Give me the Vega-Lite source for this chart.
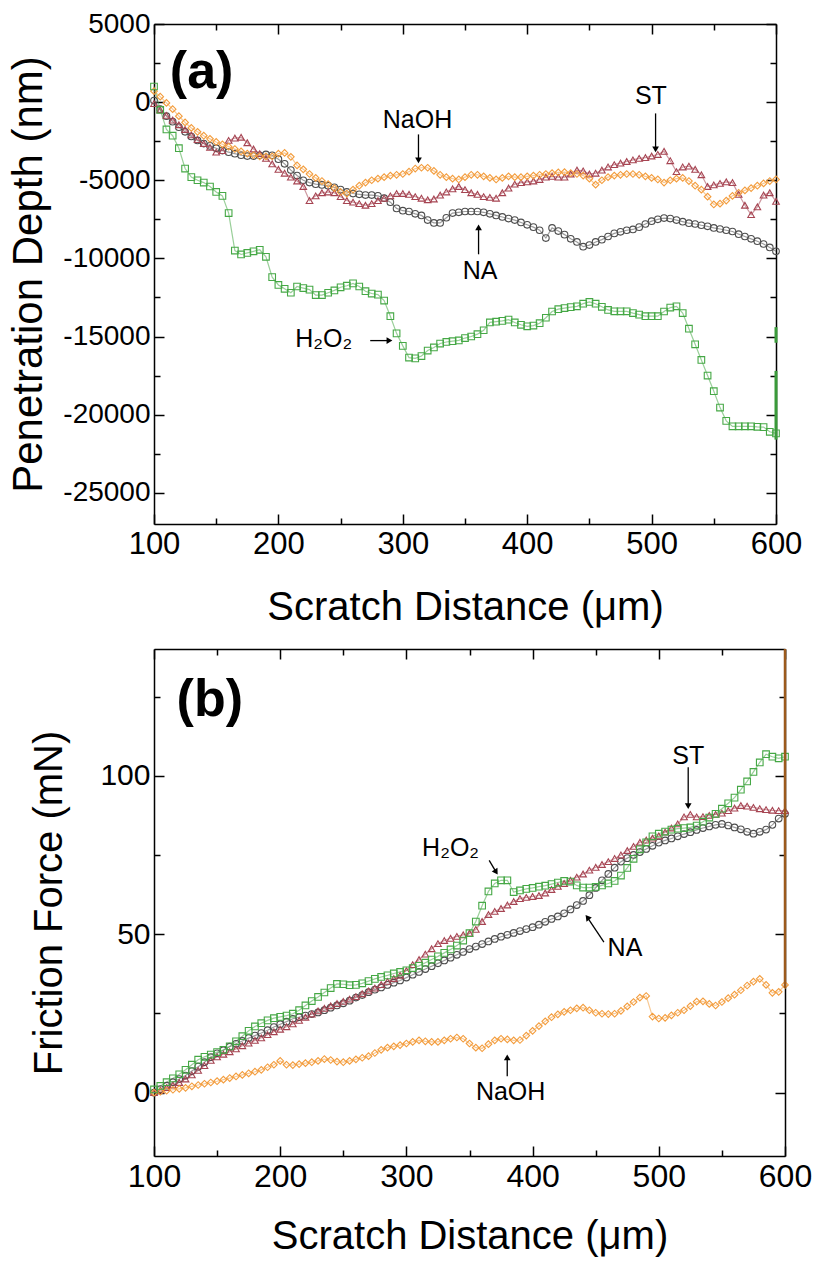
{
"$schema":"https://vega.github.io/schema/vega-lite/v6.json",
"padding":{"left":7,"top":10,"right":25,"bottom":5},
"spacing":20,
"config":{"view":{"stroke":null},"font":"Liberation Sans","axis":{"grid":false,"domainColor":"black","domainWidth":1.5,"tickColor":"black","tickWidth":1.5,"labelColor":"black","titleColor":"black","titleFontWeight":"normal","labelFont":"Liberation Sans","titleFont":"Liberation Sans","labelOverlap":false,"labelFlush":false}},
"datasets":{
"a":[
{"s":"NA","x":100,"y":100},{"s":"NA","x":105,"y":-450},{"s":"NA","x":110,"y":-900},{"s":"NA","x":115,"y":-1250},{"s":"NA","x":120,"y":-1600},{"s":"NA","x":125,"y":-1900},{"s":"NA","x":130,"y":-2200},{"s":"NA","x":135,"y":-2450},{"s":"NA","x":140,"y":-2650},{"s":"NA","x":145,"y":-2800},{"s":"NA","x":150,"y":-2950},{"s":"NA","x":155,"y":-3100},{"s":"NA","x":160,"y":-3200},{"s":"NA","x":165,"y":-3300},{"s":"NA","x":170,"y":-3400},{"s":"NA","x":175,"y":-3450},{"s":"NA","x":180,"y":-3450},{"s":"NA","x":185,"y":-3400},{"s":"NA","x":190,"y":-3350},{"s":"NA","x":195,"y":-3400},{"s":"NA","x":200,"y":-3650},{"s":"NA","x":205,"y":-3950},{"s":"NA","x":210,"y":-4350},{"s":"NA","x":215,"y":-4700},{"s":"NA","x":220,"y":-5000},{"s":"NA","x":225,"y":-5150},{"s":"NA","x":230,"y":-5250},{"s":"NA","x":235,"y":-5300},{"s":"NA","x":240,"y":-5350},{"s":"NA","x":245,"y":-5450},{"s":"NA","x":250,"y":-5600},{"s":"NA","x":255,"y":-5750},{"s":"NA","x":260,"y":-5850},{"s":"NA","x":265,"y":-5900},{"s":"NA","x":270,"y":-5950},{"s":"NA","x":275,"y":-5950},{"s":"NA","x":280,"y":-6000},{"s":"NA","x":285,"y":-6150},{"s":"NA","x":290,"y":-6400},{"s":"NA","x":295,"y":-6800},{"s":"NA","x":300,"y":-6950},{"s":"NA","x":305,"y":-7000},{"s":"NA","x":310,"y":-7150},{"s":"NA","x":315,"y":-7250},{"s":"NA","x":320,"y":-7550},{"s":"NA","x":325,"y":-7730},{"s":"NA","x":330,"y":-7730},{"s":"NA","x":335,"y":-7400},{"s":"NA","x":340,"y":-7100},{"s":"NA","x":345,"y":-7050},{"s":"NA","x":350,"y":-7000},{"s":"NA","x":355,"y":-7000},{"s":"NA","x":360,"y":-7000},{"s":"NA","x":365,"y":-7050},{"s":"NA","x":370,"y":-7150},{"s":"NA","x":375,"y":-7250},{"s":"NA","x":380,"y":-7350},{"s":"NA","x":385,"y":-7450},{"s":"NA","x":390,"y":-7550},{"s":"NA","x":395,"y":-7700},{"s":"NA","x":400,"y":-7850},{"s":"NA","x":405,"y":-8000},{"s":"NA","x":410,"y":-8200},{"s":"NA","x":415,"y":-8700},{"s":"NA","x":420,"y":-8050},{"s":"NA","x":425,"y":-8250},{"s":"NA","x":430,"y":-8480},{"s":"NA","x":435,"y":-8750},{"s":"NA","x":440,"y":-8950},{"s":"NA","x":445,"y":-9250},{"s":"NA","x":450,"y":-9150},{"s":"NA","x":455,"y":-8950},{"s":"NA","x":460,"y":-8800},{"s":"NA","x":465,"y":-8600},{"s":"NA","x":470,"y":-8400},{"s":"NA","x":475,"y":-8300},{"s":"NA","x":480,"y":-8200},{"s":"NA","x":485,"y":-8150},{"s":"NA","x":490,"y":-8000},{"s":"NA","x":495,"y":-7800},{"s":"NA","x":500,"y":-7620},{"s":"NA","x":505,"y":-7500},{"s":"NA","x":510,"y":-7420},{"s":"NA","x":515,"y":-7450},{"s":"NA","x":520,"y":-7550},{"s":"NA","x":525,"y":-7650},{"s":"NA","x":530,"y":-7750},{"s":"NA","x":535,"y":-7800},{"s":"NA","x":540,"y":-7880},{"s":"NA","x":545,"y":-7950},{"s":"NA","x":550,"y":-8050},{"s":"NA","x":555,"y":-8120},{"s":"NA","x":560,"y":-8200},{"s":"NA","x":565,"y":-8280},{"s":"NA","x":570,"y":-8450},{"s":"NA","x":575,"y":-8600},{"s":"NA","x":580,"y":-8750},{"s":"NA","x":585,"y":-8900},{"s":"NA","x":590,"y":-9080},{"s":"NA","x":595,"y":-9300},{"s":"NA","x":600,"y":-9550},
{"s":"ST","x":100,"y":-100},{"s":"ST","x":105,"y":-500},{"s":"ST","x":110,"y":-850},{"s":"ST","x":115,"y":-1150},{"s":"ST","x":120,"y":-1450},{"s":"ST","x":125,"y":-1750},{"s":"ST","x":130,"y":-2100},{"s":"ST","x":135,"y":-2400},{"s":"ST","x":140,"y":-2650},{"s":"ST","x":145,"y":-2900},{"s":"ST","x":150,"y":-3200},{"s":"ST","x":155,"y":-3100},{"s":"ST","x":160,"y":-2450},{"s":"ST","x":165,"y":-2300},{"s":"ST","x":170,"y":-2250},{"s":"ST","x":175,"y":-2600},{"s":"ST","x":180,"y":-3000},{"s":"ST","x":185,"y":-3300},{"s":"ST","x":190,"y":-3600},{"s":"ST","x":195,"y":-3950},{"s":"ST","x":200,"y":-4300},{"s":"ST","x":205,"y":-4550},{"s":"ST","x":210,"y":-4800},{"s":"ST","x":215,"y":-5050},{"s":"ST","x":220,"y":-5400},{"s":"ST","x":225,"y":-6300},{"s":"ST","x":230,"y":-6000},{"s":"ST","x":235,"y":-5800},{"s":"ST","x":240,"y":-5750},{"s":"ST","x":245,"y":-5800},{"s":"ST","x":250,"y":-6050},{"s":"ST","x":255,"y":-6300},{"s":"ST","x":260,"y":-6400},{"s":"ST","x":265,"y":-6500},{"s":"ST","x":270,"y":-6600},{"s":"ST","x":275,"y":-6500},{"s":"ST","x":280,"y":-6300},{"s":"ST","x":285,"y":-6150},{"s":"ST","x":290,"y":-6000},{"s":"ST","x":295,"y":-5850},{"s":"ST","x":300,"y":-5850},{"s":"ST","x":305,"y":-5900},{"s":"ST","x":310,"y":-6050},{"s":"ST","x":315,"y":-6150},{"s":"ST","x":320,"y":-6250},{"s":"ST","x":325,"y":-6200},{"s":"ST","x":330,"y":-5950},{"s":"ST","x":335,"y":-5750},{"s":"ST","x":340,"y":-5550},{"s":"ST","x":345,"y":-5400},{"s":"ST","x":350,"y":-5600},{"s":"ST","x":355,"y":-5800},{"s":"ST","x":360,"y":-5900},{"s":"ST","x":365,"y":-6050},{"s":"ST","x":370,"y":-6100},{"s":"ST","x":375,"y":-6150},{"s":"ST","x":380,"y":-5800},{"s":"ST","x":385,"y":-5500},{"s":"ST","x":390,"y":-5250},{"s":"ST","x":395,"y":-5150},{"s":"ST","x":400,"y":-5100},{"s":"ST","x":405,"y":-5050},{"s":"ST","x":410,"y":-4950},{"s":"ST","x":415,"y":-4800},{"s":"ST","x":420,"y":-4750},{"s":"ST","x":425,"y":-4800},{"s":"ST","x":430,"y":-4800},{"s":"ST","x":435,"y":-4600},{"s":"ST","x":440,"y":-4350},{"s":"ST","x":445,"y":-4400},{"s":"ST","x":450,"y":-4600},{"s":"ST","x":455,"y":-4550},{"s":"ST","x":460,"y":-4350},{"s":"ST","x":465,"y":-4150},{"s":"ST","x":470,"y":-4000},{"s":"ST","x":475,"y":-3900},{"s":"ST","x":480,"y":-3800},{"s":"ST","x":485,"y":-3700},{"s":"ST","x":490,"y":-3600},{"s":"ST","x":495,"y":-3550},{"s":"ST","x":500,"y":-3450},{"s":"ST","x":505,"y":-3350},{"s":"ST","x":510,"y":-3150},{"s":"ST","x":515,"y":-3750},{"s":"ST","x":520,"y":-4450},{"s":"ST","x":525,"y":-4150},{"s":"ST","x":530,"y":-4100},{"s":"ST","x":535,"y":-4300},{"s":"ST","x":540,"y":-4650},{"s":"ST","x":545,"y":-5400},{"s":"ST","x":550,"y":-5300},{"s":"ST","x":555,"y":-5200},{"s":"ST","x":560,"y":-5100},{"s":"ST","x":565,"y":-5150},{"s":"ST","x":570,"y":-5900},{"s":"ST","x":575,"y":-6600},{"s":"ST","x":580,"y":-7200},{"s":"ST","x":585,"y":-6700},{"s":"ST","x":590,"y":-5950},{"s":"ST","x":595,"y":-5800},{"s":"ST","x":600,"y":-6350},
{"s":"NaOH","x":100,"y":700},{"s":"NaOH","x":105,"y":350},{"s":"NaOH","x":110,"y":-50},{"s":"NaOH","x":115,"y":-450},{"s":"NaOH","x":120,"y":-900},{"s":"NaOH","x":125,"y":-1300},{"s":"NaOH","x":130,"y":-1650},{"s":"NaOH","x":135,"y":-1900},{"s":"NaOH","x":140,"y":-2150},{"s":"NaOH","x":145,"y":-2350},{"s":"NaOH","x":150,"y":-2550},{"s":"NaOH","x":155,"y":-2700},{"s":"NaOH","x":160,"y":-2850},{"s":"NaOH","x":165,"y":-3000},{"s":"NaOH","x":170,"y":-3150},{"s":"NaOH","x":175,"y":-3300},{"s":"NaOH","x":180,"y":-3400},{"s":"NaOH","x":185,"y":-3470},{"s":"NaOH","x":190,"y":-3470},{"s":"NaOH","x":195,"y":-3470},{"s":"NaOH","x":200,"y":-3300},{"s":"NaOH","x":205,"y":-3250},{"s":"NaOH","x":210,"y":-3500},{"s":"NaOH","x":215,"y":-4050},{"s":"NaOH","x":220,"y":-4300},{"s":"NaOH","x":225,"y":-4600},{"s":"NaOH","x":230,"y":-4850},{"s":"NaOH","x":235,"y":-5050},{"s":"NaOH","x":240,"y":-5250},{"s":"NaOH","x":245,"y":-5500},{"s":"NaOH","x":250,"y":-5750},{"s":"NaOH","x":255,"y":-5850},{"s":"NaOH","x":260,"y":-5600},{"s":"NaOH","x":265,"y":-5350},{"s":"NaOH","x":270,"y":-5150},{"s":"NaOH","x":275,"y":-5000},{"s":"NaOH","x":280,"y":-4900},{"s":"NaOH","x":285,"y":-4800},{"s":"NaOH","x":290,"y":-4700},{"s":"NaOH","x":295,"y":-4650},{"s":"NaOH","x":300,"y":-4600},{"s":"NaOH","x":305,"y":-4450},{"s":"NaOH","x":310,"y":-4250},{"s":"NaOH","x":315,"y":-4200},{"s":"NaOH","x":320,"y":-4200},{"s":"NaOH","x":325,"y":-4400},{"s":"NaOH","x":330,"y":-4650},{"s":"NaOH","x":335,"y":-4800},{"s":"NaOH","x":340,"y":-4900},{"s":"NaOH","x":345,"y":-4950},{"s":"NaOH","x":350,"y":-4800},{"s":"NaOH","x":355,"y":-4650},{"s":"NaOH","x":360,"y":-4650},{"s":"NaOH","x":365,"y":-4750},{"s":"NaOH","x":370,"y":-4850},{"s":"NaOH","x":375,"y":-4950},{"s":"NaOH","x":380,"y":-4850},{"s":"NaOH","x":385,"y":-4750},{"s":"NaOH","x":390,"y":-4800},{"s":"NaOH","x":395,"y":-4800},{"s":"NaOH","x":400,"y":-4750},{"s":"NaOH","x":405,"y":-4700},{"s":"NaOH","x":410,"y":-4650},{"s":"NaOH","x":415,"y":-4600},{"s":"NaOH","x":420,"y":-4550},{"s":"NaOH","x":425,"y":-4500},{"s":"NaOH","x":430,"y":-4480},{"s":"NaOH","x":435,"y":-4550},{"s":"NaOH","x":440,"y":-4600},{"s":"NaOH","x":445,"y":-4700},{"s":"NaOH","x":450,"y":-4900},{"s":"NaOH","x":455,"y":-5280},{"s":"NaOH","x":460,"y":-5000},{"s":"NaOH","x":465,"y":-4800},{"s":"NaOH","x":470,"y":-4700},{"s":"NaOH","x":475,"y":-4650},{"s":"NaOH","x":480,"y":-4600},{"s":"NaOH","x":485,"y":-4600},{"s":"NaOH","x":490,"y":-4650},{"s":"NaOH","x":495,"y":-4750},{"s":"NaOH","x":500,"y":-4850},{"s":"NaOH","x":505,"y":-4950},{"s":"NaOH","x":510,"y":-5150},{"s":"NaOH","x":515,"y":-5000},{"s":"NaOH","x":520,"y":-4900},{"s":"NaOH","x":525,"y":-4850},{"s":"NaOH","x":530,"y":-5050},{"s":"NaOH","x":535,"y":-5350},{"s":"NaOH","x":540,"y":-5600},{"s":"NaOH","x":545,"y":-6050},{"s":"NaOH","x":550,"y":-6550},{"s":"NaOH","x":555,"y":-6500},{"s":"NaOH","x":560,"y":-6300},{"s":"NaOH","x":565,"y":-6000},{"s":"NaOH","x":570,"y":-5800},{"s":"NaOH","x":575,"y":-5650},{"s":"NaOH","x":580,"y":-5500},{"s":"NaOH","x":585,"y":-5350},{"s":"NaOH","x":590,"y":-5200},{"s":"NaOH","x":595,"y":-5050},{"s":"NaOH","x":600,"y":-4950},
{"s":"H2O2","x":100,"y":1000},{"s":"H2O2","x":105,"y":-500},{"s":"H2O2","x":110,"y":-1750},{"s":"H2O2","x":115,"y":-2150},{"s":"H2O2","x":120,"y":-2950},{"s":"H2O2","x":125,"y":-4250},{"s":"H2O2","x":130,"y":-4800},{"s":"H2O2","x":135,"y":-5000},{"s":"H2O2","x":140,"y":-5150},{"s":"H2O2","x":145,"y":-5400},{"s":"H2O2","x":150,"y":-5750},{"s":"H2O2","x":155,"y":-6000},{"s":"H2O2","x":160,"y":-7100},{"s":"H2O2","x":165,"y":-9500},{"s":"H2O2","x":170,"y":-9750},{"s":"H2O2","x":175,"y":-9650},{"s":"H2O2","x":180,"y":-9550},{"s":"H2O2","x":185,"y":-9450},{"s":"H2O2","x":190,"y":-9900},{"s":"H2O2","x":195,"y":-11200},{"s":"H2O2","x":200,"y":-11700},{"s":"H2O2","x":205,"y":-11950},{"s":"H2O2","x":210,"y":-12200},{"s":"H2O2","x":215,"y":-11800},{"s":"H2O2","x":220,"y":-11900},{"s":"H2O2","x":225,"y":-12000},{"s":"H2O2","x":230,"y":-12350},{"s":"H2O2","x":235,"y":-12350},{"s":"H2O2","x":240,"y":-12200},{"s":"H2O2","x":245,"y":-12050},{"s":"H2O2","x":250,"y":-11850},{"s":"H2O2","x":255,"y":-11750},{"s":"H2O2","x":260,"y":-11600},{"s":"H2O2","x":265,"y":-11800},{"s":"H2O2","x":270,"y":-12100},{"s":"H2O2","x":275,"y":-12250},{"s":"H2O2","x":280,"y":-12320},{"s":"H2O2","x":285,"y":-12700},{"s":"H2O2","x":290,"y":-13700},{"s":"H2O2","x":295,"y":-14800},{"s":"H2O2","x":300,"y":-15600},{"s":"H2O2","x":305,"y":-16350},{"s":"H2O2","x":310,"y":-16400},{"s":"H2O2","x":315,"y":-16250},{"s":"H2O2","x":320,"y":-15900},{"s":"H2O2","x":325,"y":-15700},{"s":"H2O2","x":330,"y":-15450},{"s":"H2O2","x":335,"y":-15350},{"s":"H2O2","x":340,"y":-15300},{"s":"H2O2","x":345,"y":-15250},{"s":"H2O2","x":350,"y":-15100},{"s":"H2O2","x":355,"y":-15000},{"s":"H2O2","x":360,"y":-14850},{"s":"H2O2","x":365,"y":-14600},{"s":"H2O2","x":370,"y":-14100},{"s":"H2O2","x":375,"y":-14050},{"s":"H2O2","x":380,"y":-14000},{"s":"H2O2","x":385,"y":-13920},{"s":"H2O2","x":390,"y":-14100},{"s":"H2O2","x":395,"y":-14250},{"s":"H2O2","x":400,"y":-14350},{"s":"H2O2","x":405,"y":-14300},{"s":"H2O2","x":410,"y":-14150},{"s":"H2O2","x":415,"y":-13800},{"s":"H2O2","x":420,"y":-13400},{"s":"H2O2","x":425,"y":-13250},{"s":"H2O2","x":430,"y":-13180},{"s":"H2O2","x":435,"y":-13120},{"s":"H2O2","x":440,"y":-13070},{"s":"H2O2","x":445,"y":-12900},{"s":"H2O2","x":450,"y":-12790},{"s":"H2O2","x":455,"y":-12900},{"s":"H2O2","x":460,"y":-13100},{"s":"H2O2","x":465,"y":-13300},{"s":"H2O2","x":470,"y":-13390},{"s":"H2O2","x":475,"y":-13390},{"s":"H2O2","x":480,"y":-13390},{"s":"H2O2","x":485,"y":-13500},{"s":"H2O2","x":490,"y":-13600},{"s":"H2O2","x":495,"y":-13700},{"s":"H2O2","x":500,"y":-13700},{"s":"H2O2","x":505,"y":-13700},{"s":"H2O2","x":510,"y":-13400},{"s":"H2O2","x":515,"y":-13150},{"s":"H2O2","x":520,"y":-13070},{"s":"H2O2","x":525,"y":-13500},{"s":"H2O2","x":530,"y":-14500},{"s":"H2O2","x":535,"y":-15500},{"s":"H2O2","x":540,"y":-16500},{"s":"H2O2","x":545,"y":-17500},{"s":"H2O2","x":550,"y":-18500},{"s":"H2O2","x":555,"y":-19550},{"s":"H2O2","x":560,"y":-20400},{"s":"H2O2","x":565,"y":-20750},{"s":"H2O2","x":570,"y":-20750},{"s":"H2O2","x":575,"y":-20750},{"s":"H2O2","x":580,"y":-20750},{"s":"H2O2","x":585,"y":-20780},{"s":"H2O2","x":590,"y":-20800},{"s":"H2O2","x":595,"y":-21100},{"s":"H2O2","x":600,"y":-21200}
],
"b":[
{"s":"NA","x":100,"y":0},{"s":"NA","x":105,"y":1.1},{"s":"NA","x":110,"y":2.2},{"s":"NA","x":115,"y":3.3},{"s":"NA","x":120,"y":4.3},{"s":"NA","x":125,"y":5.4},{"s":"NA","x":130,"y":6.8},{"s":"NA","x":135,"y":8.2},{"s":"NA","x":140,"y":9.6},{"s":"NA","x":145,"y":11.2},{"s":"NA","x":150,"y":12.4},{"s":"NA","x":155,"y":13.4},{"s":"NA","x":160,"y":14.5},{"s":"NA","x":165,"y":15.4},{"s":"NA","x":170,"y":16.3},{"s":"NA","x":175,"y":17.2},{"s":"NA","x":180,"y":18.0},{"s":"NA","x":185,"y":18.8},{"s":"NA","x":190,"y":19.7},{"s":"NA","x":195,"y":20.7},{"s":"NA","x":200,"y":21.6},{"s":"NA","x":205,"y":22.4},{"s":"NA","x":210,"y":23.3},{"s":"NA","x":215,"y":23.8},{"s":"NA","x":220,"y":24.3},{"s":"NA","x":225,"y":24.8},{"s":"NA","x":230,"y":25.3},{"s":"NA","x":235,"y":26.0},{"s":"NA","x":240,"y":26.8},{"s":"NA","x":245,"y":27.5},{"s":"NA","x":250,"y":28.2},{"s":"NA","x":255,"y":29.0},{"s":"NA","x":260,"y":30.0},{"s":"NA","x":265,"y":30.8},{"s":"NA","x":270,"y":31.7},{"s":"NA","x":275,"y":32.5},{"s":"NA","x":280,"y":33.2},{"s":"NA","x":285,"y":34.0},{"s":"NA","x":290,"y":34.7},{"s":"NA","x":295,"y":35.4},{"s":"NA","x":300,"y":36.3},{"s":"NA","x":305,"y":37.2},{"s":"NA","x":310,"y":38.1},{"s":"NA","x":315,"y":39.0},{"s":"NA","x":320,"y":39.9},{"s":"NA","x":325,"y":40.8},{"s":"NA","x":330,"y":41.7},{"s":"NA","x":335,"y":42.6},{"s":"NA","x":340,"y":43.5},{"s":"NA","x":345,"y":44.4},{"s":"NA","x":350,"y":45.3},{"s":"NA","x":355,"y":46.1},{"s":"NA","x":360,"y":46.9},{"s":"NA","x":365,"y":47.7},{"s":"NA","x":370,"y":48.5},{"s":"NA","x":375,"y":49.2},{"s":"NA","x":380,"y":49.8},{"s":"NA","x":385,"y":50.4},{"s":"NA","x":390,"y":51.0},{"s":"NA","x":395,"y":51.6},{"s":"NA","x":400,"y":52.2},{"s":"NA","x":405,"y":53.0},{"s":"NA","x":410,"y":53.9},{"s":"NA","x":415,"y":54.8},{"s":"NA","x":420,"y":55.6},{"s":"NA","x":425,"y":56.6},{"s":"NA","x":430,"y":57.8},{"s":"NA","x":435,"y":59.2},{"s":"NA","x":440,"y":60.5},{"s":"NA","x":445,"y":62.3},{"s":"NA","x":450,"y":64.6},{"s":"NA","x":455,"y":67.0},{"s":"NA","x":460,"y":69.0},{"s":"NA","x":465,"y":71.0},{"s":"NA","x":470,"y":72.9},{"s":"NA","x":475,"y":74.0},{"s":"NA","x":480,"y":75.0},{"s":"NA","x":485,"y":75.9},{"s":"NA","x":490,"y":76.9},{"s":"NA","x":495,"y":77.9},{"s":"NA","x":500,"y":78.9},{"s":"NA","x":505,"y":79.6},{"s":"NA","x":510,"y":80.2},{"s":"NA","x":515,"y":80.9},{"s":"NA","x":520,"y":81.6},{"s":"NA","x":525,"y":82.2},{"s":"NA","x":530,"y":82.9},{"s":"NA","x":535,"y":83.5},{"s":"NA","x":540,"y":84.0},{"s":"NA","x":545,"y":84.5},{"s":"NA","x":550,"y":84.8},{"s":"NA","x":555,"y":84.3},{"s":"NA","x":560,"y":83.7},{"s":"NA","x":565,"y":83.1},{"s":"NA","x":570,"y":82.3},{"s":"NA","x":575,"y":81.7},{"s":"NA","x":580,"y":82.3},{"s":"NA","x":585,"y":83.0},{"s":"NA","x":590,"y":84.5},{"s":"NA","x":595,"y":86.5},{"s":"NA","x":600,"y":88.0},
{"s":"ST","x":100,"y":0},{"s":"ST","x":105,"y":0.8},{"s":"ST","x":110,"y":1.6},{"s":"ST","x":115,"y":2.4},{"s":"ST","x":120,"y":3.2},{"s":"ST","x":125,"y":4.3},{"s":"ST","x":130,"y":5.6},{"s":"ST","x":135,"y":7.0},{"s":"ST","x":140,"y":8.5},{"s":"ST","x":145,"y":10.2},{"s":"ST","x":150,"y":11.3},{"s":"ST","x":155,"y":12.1},{"s":"ST","x":160,"y":12.9},{"s":"ST","x":165,"y":13.8},{"s":"ST","x":170,"y":14.8},{"s":"ST","x":175,"y":15.6},{"s":"ST","x":180,"y":16.5},{"s":"ST","x":185,"y":17.3},{"s":"ST","x":190,"y":18.3},{"s":"ST","x":195,"y":19.2},{"s":"ST","x":200,"y":20.0},{"s":"ST","x":205,"y":20.8},{"s":"ST","x":210,"y":21.7},{"s":"ST","x":215,"y":22.8},{"s":"ST","x":220,"y":23.8},{"s":"ST","x":225,"y":24.8},{"s":"ST","x":230,"y":25.8},{"s":"ST","x":235,"y":26.6},{"s":"ST","x":240,"y":27.4},{"s":"ST","x":245,"y":28.1},{"s":"ST","x":250,"y":28.8},{"s":"ST","x":255,"y":29.5},{"s":"ST","x":260,"y":30.3},{"s":"ST","x":265,"y":31.2},{"s":"ST","x":270,"y":32.1},{"s":"ST","x":275,"y":33.0},{"s":"ST","x":280,"y":34.1},{"s":"ST","x":285,"y":35.1},{"s":"ST","x":290,"y":36.0},{"s":"ST","x":295,"y":37.0},{"s":"ST","x":300,"y":38.5},{"s":"ST","x":305,"y":40.4},{"s":"ST","x":310,"y":42.0},{"s":"ST","x":315,"y":43.7},{"s":"ST","x":320,"y":45.4},{"s":"ST","x":325,"y":47.0},{"s":"ST","x":330,"y":48.0},{"s":"ST","x":335,"y":48.7},{"s":"ST","x":340,"y":49.3},{"s":"ST","x":345,"y":49.8},{"s":"ST","x":350,"y":50.3},{"s":"ST","x":355,"y":51.5},{"s":"ST","x":360,"y":54.0},{"s":"ST","x":365,"y":56.2},{"s":"ST","x":370,"y":57.2},{"s":"ST","x":375,"y":58.1},{"s":"ST","x":380,"y":59.2},{"s":"ST","x":385,"y":60.3},{"s":"ST","x":390,"y":61.2},{"s":"ST","x":395,"y":61.6},{"s":"ST","x":400,"y":61.9},{"s":"ST","x":405,"y":62.2},{"s":"ST","x":410,"y":63.0},{"s":"ST","x":415,"y":64.1},{"s":"ST","x":420,"y":65.1},{"s":"ST","x":425,"y":66.0},{"s":"ST","x":430,"y":67.0},{"s":"ST","x":435,"y":68.0},{"s":"ST","x":440,"y":69.0},{"s":"ST","x":445,"y":70.2},{"s":"ST","x":450,"y":71.1},{"s":"ST","x":455,"y":72.0},{"s":"ST","x":460,"y":72.9},{"s":"ST","x":465,"y":73.9},{"s":"ST","x":470,"y":75.0},{"s":"ST","x":475,"y":76.4},{"s":"ST","x":480,"y":77.7},{"s":"ST","x":485,"y":79.0},{"s":"ST","x":490,"y":79.7},{"s":"ST","x":495,"y":80.3},{"s":"ST","x":500,"y":81.0},{"s":"ST","x":505,"y":82.2},{"s":"ST","x":510,"y":83.5},{"s":"ST","x":515,"y":84.8},{"s":"ST","x":520,"y":87.0},{"s":"ST","x":525,"y":87.8},{"s":"ST","x":530,"y":87.0},{"s":"ST","x":535,"y":87.1},{"s":"ST","x":540,"y":87.5},{"s":"ST","x":545,"y":87.8},{"s":"ST","x":550,"y":88.2},{"s":"ST","x":555,"y":89.0},{"s":"ST","x":560,"y":89.8},{"s":"ST","x":565,"y":90.6},{"s":"ST","x":570,"y":90.4},{"s":"ST","x":575,"y":90.0},{"s":"ST","x":580,"y":89.6},{"s":"ST","x":585,"y":89.3},{"s":"ST","x":590,"y":89.1},{"s":"ST","x":595,"y":89.0},{"s":"ST","x":600,"y":89.0},
{"s":"NaOH","x":100,"y":0},{"s":"NaOH","x":105,"y":0.3},{"s":"NaOH","x":110,"y":0.6},{"s":"NaOH","x":115,"y":0.9},{"s":"NaOH","x":120,"y":1.2},{"s":"NaOH","x":125,"y":1.5},{"s":"NaOH","x":130,"y":2.0},{"s":"NaOH","x":135,"y":2.4},{"s":"NaOH","x":140,"y":2.8},{"s":"NaOH","x":145,"y":3.2},{"s":"NaOH","x":150,"y":3.6},{"s":"NaOH","x":155,"y":4.1},{"s":"NaOH","x":160,"y":4.6},{"s":"NaOH","x":165,"y":5.1},{"s":"NaOH","x":170,"y":5.6},{"s":"NaOH","x":175,"y":6.1},{"s":"NaOH","x":180,"y":6.6},{"s":"NaOH","x":185,"y":7.2},{"s":"NaOH","x":190,"y":8.0},{"s":"NaOH","x":195,"y":8.8},{"s":"NaOH","x":200,"y":10.0},{"s":"NaOH","x":205,"y":8.8},{"s":"NaOH","x":210,"y":8.7},{"s":"NaOH","x":215,"y":9.0},{"s":"NaOH","x":220,"y":9.3},{"s":"NaOH","x":225,"y":9.6},{"s":"NaOH","x":230,"y":10.0},{"s":"NaOH","x":235,"y":10.6},{"s":"NaOH","x":240,"y":10.3},{"s":"NaOH","x":245,"y":9.8},{"s":"NaOH","x":250,"y":9.6},{"s":"NaOH","x":255,"y":10.0},{"s":"NaOH","x":260,"y":10.5},{"s":"NaOH","x":265,"y":11.0},{"s":"NaOH","x":270,"y":11.5},{"s":"NaOH","x":275,"y":12.5},{"s":"NaOH","x":280,"y":13.5},{"s":"NaOH","x":285,"y":14.2},{"s":"NaOH","x":290,"y":14.6},{"s":"NaOH","x":295,"y":15.0},{"s":"NaOH","x":300,"y":15.5},{"s":"NaOH","x":305,"y":16.0},{"s":"NaOH","x":310,"y":16.5},{"s":"NaOH","x":315,"y":16.2},{"s":"NaOH","x":320,"y":16.0},{"s":"NaOH","x":325,"y":16.0},{"s":"NaOH","x":330,"y":16.5},{"s":"NaOH","x":335,"y":17.0},{"s":"NaOH","x":340,"y":17.4},{"s":"NaOH","x":345,"y":17.0},{"s":"NaOH","x":350,"y":15.5},{"s":"NaOH","x":355,"y":14.2},{"s":"NaOH","x":360,"y":14.0},{"s":"NaOH","x":365,"y":15.3},{"s":"NaOH","x":370,"y":16.5},{"s":"NaOH","x":375,"y":17.0},{"s":"NaOH","x":380,"y":16.8},{"s":"NaOH","x":385,"y":16.5},{"s":"NaOH","x":390,"y":16.6},{"s":"NaOH","x":395,"y":18.0},{"s":"NaOH","x":400,"y":19.5},{"s":"NaOH","x":405,"y":21.0},{"s":"NaOH","x":410,"y":22.5},{"s":"NaOH","x":415,"y":23.8},{"s":"NaOH","x":420,"y":24.7},{"s":"NaOH","x":425,"y":25.5},{"s":"NaOH","x":430,"y":26.0},{"s":"NaOH","x":435,"y":26.6},{"s":"NaOH","x":440,"y":26.8},{"s":"NaOH","x":445,"y":26.0},{"s":"NaOH","x":450,"y":25.2},{"s":"NaOH","x":455,"y":24.9},{"s":"NaOH","x":460,"y":24.8},{"s":"NaOH","x":465,"y":24.9},{"s":"NaOH","x":470,"y":25.8},{"s":"NaOH","x":475,"y":27.2},{"s":"NaOH","x":480,"y":28.6},{"s":"NaOH","x":485,"y":30.0},{"s":"NaOH","x":490,"y":30.5},{"s":"NaOH","x":495,"y":24.0},{"s":"NaOH","x":500,"y":23.4},{"s":"NaOH","x":505,"y":23.6},{"s":"NaOH","x":510,"y":24.4},{"s":"NaOH","x":515,"y":25.2},{"s":"NaOH","x":520,"y":26.0},{"s":"NaOH","x":525,"y":27.3},{"s":"NaOH","x":530,"y":28.7},{"s":"NaOH","x":535,"y":28.8},{"s":"NaOH","x":540,"y":28.0},{"s":"NaOH","x":545,"y":27.5},{"s":"NaOH","x":550,"y":28.6},{"s":"NaOH","x":555,"y":29.8},{"s":"NaOH","x":560,"y":30.9},{"s":"NaOH","x":565,"y":32.3},{"s":"NaOH","x":570,"y":33.8},{"s":"NaOH","x":575,"y":35.0},{"s":"NaOH","x":580,"y":35.9},{"s":"NaOH","x":585,"y":34.0},{"s":"NaOH","x":590,"y":31.5},{"s":"NaOH","x":595,"y":31.8},{"s":"NaOH","x":600,"y":34.0},
{"s":"H2O2","x":100,"y":1.0},{"s":"H2O2","x":105,"y":2.1},{"s":"H2O2","x":110,"y":3.3},{"s":"H2O2","x":115,"y":4.5},{"s":"H2O2","x":120,"y":5.8},{"s":"H2O2","x":125,"y":7.2},{"s":"H2O2","x":130,"y":8.8},{"s":"H2O2","x":135,"y":10.4},{"s":"H2O2","x":140,"y":11.3},{"s":"H2O2","x":145,"y":12.0},{"s":"H2O2","x":150,"y":12.8},{"s":"H2O2","x":155,"y":13.5},{"s":"H2O2","x":160,"y":14.6},{"s":"H2O2","x":165,"y":16.2},{"s":"H2O2","x":170,"y":17.8},{"s":"H2O2","x":175,"y":19.5},{"s":"H2O2","x":180,"y":20.9},{"s":"H2O2","x":185,"y":21.9},{"s":"H2O2","x":190,"y":22.8},{"s":"H2O2","x":195,"y":23.5},{"s":"H2O2","x":200,"y":23.9},{"s":"H2O2","x":205,"y":24.3},{"s":"H2O2","x":210,"y":24.9},{"s":"H2O2","x":215,"y":26.0},{"s":"H2O2","x":220,"y":27.5},{"s":"H2O2","x":225,"y":28.9},{"s":"H2O2","x":230,"y":30.2},{"s":"H2O2","x":235,"y":31.6},{"s":"H2O2","x":240,"y":33.0},{"s":"H2O2","x":245,"y":34.3},{"s":"H2O2","x":250,"y":34.2},{"s":"H2O2","x":255,"y":33.9},{"s":"H2O2","x":260,"y":34.0},{"s":"H2O2","x":265,"y":34.5},{"s":"H2O2","x":270,"y":35.2},{"s":"H2O2","x":275,"y":35.9},{"s":"H2O2","x":280,"y":36.5},{"s":"H2O2","x":285,"y":37.0},{"s":"H2O2","x":290,"y":37.6},{"s":"H2O2","x":295,"y":38.1},{"s":"H2O2","x":300,"y":38.6},{"s":"H2O2","x":305,"y":39.3},{"s":"H2O2","x":310,"y":40.0},{"s":"H2O2","x":315,"y":41.0},{"s":"H2O2","x":320,"y":42.0},{"s":"H2O2","x":325,"y":43.0},{"s":"H2O2","x":330,"y":44.1},{"s":"H2O2","x":335,"y":45.2},{"s":"H2O2","x":340,"y":46.4},{"s":"H2O2","x":345,"y":48.0},{"s":"H2O2","x":350,"y":50.3},{"s":"H2O2","x":355,"y":54.0},{"s":"H2O2","x":360,"y":59.0},{"s":"H2O2","x":365,"y":63.5},{"s":"H2O2","x":370,"y":66.0},{"s":"H2O2","x":375,"y":67.0},{"s":"H2O2","x":380,"y":67.0},{"s":"H2O2","x":385,"y":63.3},{"s":"H2O2","x":390,"y":63.8},{"s":"H2O2","x":395,"y":64.3},{"s":"H2O2","x":400,"y":64.6},{"s":"H2O2","x":405,"y":65.0},{"s":"H2O2","x":410,"y":65.3},{"s":"H2O2","x":415,"y":65.8},{"s":"H2O2","x":420,"y":66.3},{"s":"H2O2","x":425,"y":66.8},{"s":"H2O2","x":430,"y":66.6},{"s":"H2O2","x":435,"y":65.4},{"s":"H2O2","x":440,"y":64.7},{"s":"H2O2","x":445,"y":64.7},{"s":"H2O2","x":450,"y":64.9},{"s":"H2O2","x":455,"y":65.4},{"s":"H2O2","x":460,"y":66.0},{"s":"H2O2","x":465,"y":66.8},{"s":"H2O2","x":470,"y":68.5},{"s":"H2O2","x":475,"y":70.9},{"s":"H2O2","x":480,"y":73.8},{"s":"H2O2","x":485,"y":76.8},{"s":"H2O2","x":490,"y":79.0},{"s":"H2O2","x":495,"y":80.9},{"s":"H2O2","x":500,"y":81.7},{"s":"H2O2","x":505,"y":82.4},{"s":"H2O2","x":510,"y":83.0},{"s":"H2O2","x":515,"y":83.3},{"s":"H2O2","x":520,"y":83.5},{"s":"H2O2","x":525,"y":83.7},{"s":"H2O2","x":530,"y":84.3},{"s":"H2O2","x":535,"y":85.5},{"s":"H2O2","x":540,"y":86.8},{"s":"H2O2","x":545,"y":88.0},{"s":"H2O2","x":550,"y":89.6},{"s":"H2O2","x":555,"y":91.3},{"s":"H2O2","x":560,"y":93.1},{"s":"H2O2","x":565,"y":95.6},{"s":"H2O2","x":570,"y":98.2},{"s":"H2O2","x":575,"y":101.2},{"s":"H2O2","x":580,"y":104.2},{"s":"H2O2","x":585,"y":106.8},{"s":"H2O2","x":590,"y":106.0},{"s":"H2O2","x":595,"y":105.5},{"s":"H2O2","x":600,"y":106.0}
],
"txtA":[{"x":311.8,"y":-1163,"t":"NaOH"},{"x":499.4,"y":372,"t":"ST"},{"x":362.2,"y":-10826,"t":"NA"},{"x":236.4,"y":-15147,"t":"H₂O₂"}],
"arrA":[{"x":312.6,"y":-2066,"x2":312.6,"y2":-3723,"ang":180},{"x":503.2,"y":-722,"x2":503.2,"y2":-3019,"ang":180},{"x":360.9,"y":-9739,"x2":360.9,"y2":-8011,"ang":0},{"x":273.8,"y":-15262,"x2":289.3,"y2":-15262,"ang":90}],
"edgeA":[{"x":600,"y":-14400,"y2":-15400},{"x":600,"y":-17200,"y2":-21600}],
"txtB":[{"x":523.3,"y":106.2,"t":"ST"},{"x":335,"y":77.1,"t":"H₂O₂"},{"x":473.2,"y":45.7,"t":"NA"},{"x":382.6,"y":0.2,"t":"NaOH"}],
"arrB":[{"x":523.3,"y":102.7,"x2":523.3,"y2":90.4,"ang":180},{"x":365.6,"y":73.3,"x2":371.1,"y2":69.6,"ang":148},{"x":456.5,"y":47.5,"x2":443.4,"y2":55.3,"ang":322},{"x":379.9,"y":5.2,"x2":379.9,"y2":11.1,"ang":0}],
"edgeB":[{"x":600,"y":33,"y2":140}]
},
"vconcat":[
{
"width":622,"height":500,
"resolve":{"axis":{"x":"independent","y":"independent"}},
"layer":[
{"data":{"name":"a"},
"mark":{"type":"line","strokeWidth":1.2,"opacity":0.55},
"encoding":{"x":{"field":"x","type":"quantitative","axis":null},"y":{"field":"y","type":"quantitative","axis":null},"color":{"field":"s","type":"nominal","legend":null},"detail":{"field":"s"}}},
{"data":{"name":"a"},
"mark":{"type":"point","filled":false,"size":44,"strokeWidth":1.1,"opacity":1},
"encoding":{
"x":{"field":"x","type":"quantitative","scale":{"domain":[100,600],"nice":false,"zero":false},
"axis":{"orient":"bottom","values":[100,150,200,250,300,350,400,450,500,550,600],"labelExpr":"datum.value % 100 === 0 ? '' + datum.value : ''","tickSize":{"condition":{"test":"datum.value % 100 === 0","value":-10},"value":-6},"labelFontSize":31,"labelPadding":15,"title":"Scratch Distance (μm)","titleFontSize":40,"titlePadding":24}},
"y":{"field":"y","type":"quantitative","scale":{"domain":[-27000,5000],"nice":false,"zero":false},
"axis":{"orient":"left","values":[-25000,-22500,-20000,-17500,-15000,-12500,-10000,-7500,-5000,-2500,0,2500,5000],"labelExpr":"datum.value % 5000 === 0 ? '' + datum.value : ''","tickSize":{"condition":{"test":"datum.value % 5000 === 0","value":-10},"value":-6},"labelFontSize":28,"labelPadding":14,"title":"Penetration Depth (nm)","titleFontSize":42,"titlePadding":12}},
"color":{"field":"s","type":"nominal","scale":{"domain":["NA","ST","NaOH","H2O2"],"range":["#4d4d4d","#a64452","#f39c3c","#45a845"]},"legend":null},
"shape":{"field":"s","type":"nominal","scale":{"domain":["NA","ST","NaOH","H2O2"],"range":["circle","triangle-up","diamond","square"]},"legend":null}
}},
{"data":{"name":"edgeA"},
"mark":{"type":"rule","color":"#3a9a3a","strokeWidth":3},
"encoding":{"x":{"field":"x","type":"quantitative","axis":null},"y":{"field":"y","type":"quantitative","axis":null},"y2":{"field":"y2"}}},
{"data":{"name":"arrA"},
"mark":{"type":"rule","color":"black","strokeWidth":1.3},
"encoding":{
"x":{"field":"x","type":"quantitative","axis":{"orient":"top","values":[100,150,200,250,300,350,400,450,500,550,600],"labels":false,"tickSize":{"condition":{"test":"datum.value % 100 === 0","value":-10},"value":-6},"title":null}},
"y":{"field":"y","type":"quantitative","axis":{"orient":"right","values":[-25000,-22500,-20000,-17500,-15000,-12500,-10000,-7500,-5000,-2500,0,2500,5000],"labels":false,"tickSize":{"condition":{"test":"datum.value % 5000 === 0","value":-10},"value":-6},"title":null}},
"x2":{"field":"x2"},"y2":{"field":"y2"}}},
{"data":{"name":"arrA"},
"mark":{"type":"point","shape":"triangle-up","filled":true,"color":"black","size":45,"opacity":1},
"encoding":{"x":{"field":"x2","type":"quantitative","axis":null},"y":{"field":"y2","type":"quantitative","axis":null},"angle":{"field":"ang","type":"quantitative","scale":null}}},
{"data":{"name":"txtA"},
"mark":{"type":"text","fontSize":25,"font":"Liberation Sans","baseline":"middle","align":"center","color":"black"},
"encoding":{"x":{"field":"x","type":"quantitative","axis":null},"y":{"field":"y","type":"quantitative","axis":null},"text":{"field":"t"}}},
{"data":{"values":[{"x":138.3,"y":1910,"t":"(a)"}]},
"mark":{"type":"text","fontSize":52,"fontWeight":"bold","font":"Liberation Sans","baseline":"middle","align":"center","color":"black"},
"encoding":{"x":{"field":"x","type":"quantitative","axis":null},"y":{"field":"y","type":"quantitative","axis":null},"text":{"field":"t"}}}
]
},
{
"width":631,"height":507,
"resolve":{"axis":{"x":"independent","y":"independent"}},
"layer":[
{"data":{"name":"b"},
"mark":{"type":"line","strokeWidth":1.2,"opacity":0.55},
"encoding":{"x":{"field":"x","type":"quantitative","axis":null},"y":{"field":"y","type":"quantitative","axis":null},"color":{"field":"s","type":"nominal","legend":null},"detail":{"field":"s"}}},
{"data":{"name":"b"},
"mark":{"type":"point","filled":false,"size":44,"strokeWidth":1.1,"opacity":1},
"encoding":{
"x":{"field":"x","type":"quantitative","scale":{"domain":[100,600],"nice":false,"zero":false},
"axis":{"orient":"bottom","values":[100,150,200,250,300,350,400,450,500,550,600],"labelExpr":"datum.value % 100 === 0 ? '' + datum.value : ''","tickSize":{"condition":{"test":"datum.value % 100 === 0","value":-10},"value":-6},"labelFontSize":32,"labelPadding":15,"title":"Scratch Distance (μm)","titleFontSize":40,"titlePadding":20}},
"y":{"field":"y","type":"quantitative","scale":{"domain":[-20,140],"nice":false,"zero":false},
"axis":{"orient":"left","values":[0,25,50,75,100,125],"labelExpr":"datum.value % 50 === 0 ? '' + datum.value : ''","tickSize":{"condition":{"test":"datum.value % 50 === 0","value":-10},"value":-6},"labelFontSize":30,"labelPadding":14,"title":"Friction Force (mN)","titleFontSize":40,"titlePadding":30}},
"color":{"field":"s","type":"nominal","scale":{"domain":["NA","ST","NaOH","H2O2"],"range":["#4d4d4d","#a64452","#f39c3c","#45a845"]},"legend":null},
"shape":{"field":"s","type":"nominal","scale":{"domain":["NA","ST","NaOH","H2O2"],"range":["circle","triangle-up","diamond","square"]},"legend":null}
}},
{"data":{"name":"edgeB"},
"mark":{"type":"rule","color":"#9c5a1c","strokeWidth":2.5},
"encoding":{"x":{"field":"x","type":"quantitative","axis":null},"y":{"field":"y","type":"quantitative","axis":null},"y2":{"field":"y2"}}},
{"data":{"name":"arrB"},
"mark":{"type":"rule","color":"black","strokeWidth":1.3},
"encoding":{
"x":{"field":"x","type":"quantitative","axis":{"orient":"top","values":[100,150,200,250,300,350,400,450,500,550,600],"labels":false,"tickSize":{"condition":{"test":"datum.value % 100 === 0","value":-10},"value":-6},"title":null}},
"y":{"field":"y","type":"quantitative","axis":{"orient":"right","values":[0,25,50,75,100,125],"labels":false,"tickSize":{"condition":{"test":"datum.value % 50 === 0","value":-10},"value":-6},"title":null}},
"x2":{"field":"x2"},"y2":{"field":"y2"}}},
{"data":{"name":"arrB"},
"mark":{"type":"point","shape":"triangle-up","filled":true,"color":"black","size":45,"opacity":1},
"encoding":{"x":{"field":"x2","type":"quantitative","axis":null},"y":{"field":"y2","type":"quantitative","axis":null},"angle":{"field":"ang","type":"quantitative","scale":null}}},
{"data":{"name":"txtB"},
"mark":{"type":"text","fontSize":25,"font":"Liberation Sans","baseline":"middle","align":"center","color":"black"},
"encoding":{"x":{"field":"x","type":"quantitative","axis":null},"y":{"field":"y","type":"quantitative","axis":null},"text":{"field":"t"}}},
{"data":{"values":[{"x":144.2,"y":124,"t":"(b)"}]},
"mark":{"type":"text","fontSize":52,"fontWeight":"bold","font":"Liberation Sans","baseline":"middle","align":"center","color":"black"},
"encoding":{"x":{"field":"x","type":"quantitative","axis":null},"y":{"field":"y","type":"quantitative","axis":null},"text":{"field":"t"}}}
]
}
]
}
